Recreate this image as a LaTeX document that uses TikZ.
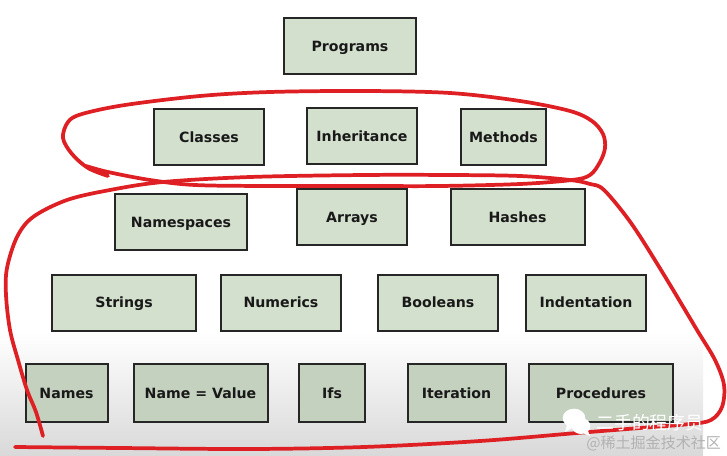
\documentclass[tikz,border=0pt]{standalone}
\usepackage{fontspec}
\setmainfont{DejaVu Sans}
\newfontfamily\cjkfont{Noto Sans CJK SC}
\definecolor{boxgreen}{HTML}{D3E0CD}
\definecolor{boxlow}{HTML}{C3D1BE}
\definecolor{penred}{HTML}{DE2024}
\tikzset{
    topicbox/.style={draw=black!85, line width=1.5pt, fill=boxgreen, font=\bfseries\fontsize{10.6}{12}\selectfont, text=black!90, inner sep=0pt, text height=10pt, text depth=2pt},
    lowbox/.style={topicbox, fill=boxlow},
    penline/.style={draw=penred, line width=2.8pt, line cap=round, line join=round},
    markline/.style={white, font=\cjkfont\fontsize{13.4}{15}\selectfont}
}
\begin{document}
\begin{tikzpicture}[x=0.75pt,y=-0.75pt]
    \useasboundingbox (0,0) rectangle (727,456);
    \fill[white] (0,0) rectangle (727,456);
    \shade[top color=white, bottom color=black!15] (0,332) rectangle (703,456);

    \node [topicbox, minimum width=99.5pt, minimum height=42pt] (programs) at (350,46.5) {Programs};

    \node [topicbox, minimum width=83pt, minimum height=42pt] (classes) at (209,137) {Classes};
    \node [topicbox, minimum width=83pt, minimum height=42pt] (inheritance) at (362,136) {Inheritance};
    \node [topicbox, minimum width=64pt, minimum height=42pt] (methods) at (503.5,137) {Methods};

    \node [topicbox, minimum width=99.5pt, minimum height=42pt] (namespaces) at (181,222) {Namespaces};
    \node [topicbox, minimum width=83pt, minimum height=42pt] (arrays) at (352,217) {Arrays};
    \node [topicbox, minimum width=100.5pt, minimum height=42pt] (hashes) at (517.5,217) {Hashes};

    \node [topicbox, minimum width=107.5pt, minimum height=42pt] (strings) at (124,302.5) {Strings};
    \node [topicbox, minimum width=90.5pt, minimum height=42pt] (numerics) at (281,302.5) {Numerics};
    \node [topicbox, minimum width=90.5pt, minimum height=42pt] (booleans) at (438,302.5) {Booleans};
    \node [topicbox, minimum width=90.5pt, minimum height=42pt] (indentation) at (586,302.5) {Indentation};

    \node [lowbox, minimum width=61.5pt, minimum height=43pt] (names) at (66.5,393) {Names};
    \node [lowbox, minimum width=100.5pt, minimum height=43pt] (namevalue) at (200.5,393) {Name = Value};
    \node [lowbox, minimum width=50pt, minimum height=43pt] (ifs) at (332,393) {Ifs};
    \node [lowbox, minimum width=73.5pt, minimum height=43pt] (iteration) at (456.5,393) {Iteration};
    \node [lowbox, minimum width=108.5pt, minimum height=43pt] (procedures) at (601,393) {Procedures};

    % upper loop
    \draw[penline] plot[smooth, tension=0.55] coordinates {(108,176) (88,168) (72,154) (63,138) (68,122) (82,114) (125,105) (200,96) (270,92) (364,91) (450,93) (520,101) (570,111) (592,121) (603,134) (605,148) (600,162) (590,175) (572,180) (520,184) (440,186) (364,186) (270,186) (195,185) (150,180) (108,172) (86,166)};
    % lower loop
    \draw[penline] plot[smooth, tension=0.55] coordinates {(43,436) (36,412) (27,390) (18,360) (10,330) (6,295) (7,268) (17,237) (33,217) (67,200) (110,190) (163,182) (250,177) (364,175) (450,175) (520,176) (570,180) (590,184) (604,190) (631,223) (661,270) (697,330) (715,360) (724,385) (722,407) (711,420) (690,424) (640,428) (577,433) (480,441) (364,447) (250,449) (120,448) (15,447)};

    % watermark
    \fill[white] (574,418) ellipse (8.5pt and 7pt);
    \fill[white] (567,425) -- (565,432) -- (574,427) -- cycle;
    \fill[white] (581,426) ellipse (7pt and 6pt);
    \fill[white] (588,431) -- (590,436) -- (583,433) -- cycle;
    \node [markline, anchor=west, inner sep=0pt] (markname) at (596,423) {二手的程序员};
    \node [anchor=west, inner sep=0pt, text=black!30, font=\cjkfont\fontsize{11.3}{13}\selectfont] (marksite) at (586,443) {@稀土掘金技术社区};
\end{tikzpicture}
\end{document}
